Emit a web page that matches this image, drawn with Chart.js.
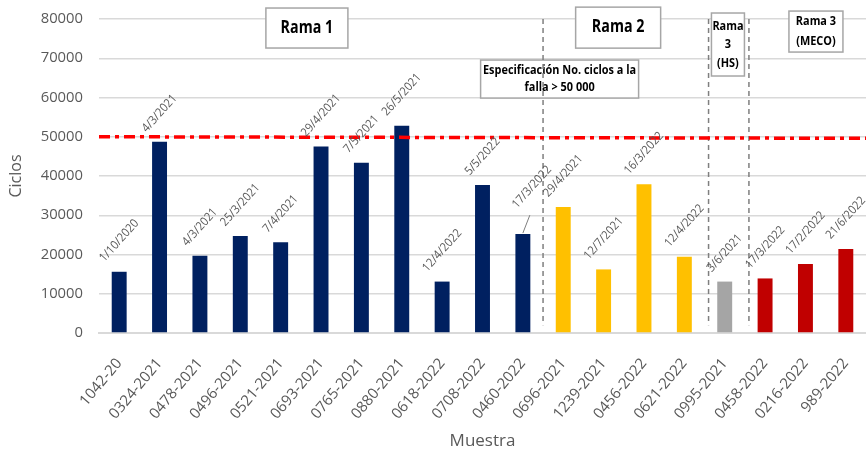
<!DOCTYPE html>
<html>
<head>
<meta charset="utf-8">
<script src="https://cdn.jsdelivr.net/npm/chart.js@4"></script>
<style>
  html, body { margin: 0; padding: 0; background: #fff; }
  #wrap { width: 866px; height: 456px; }
</style>
</head>
<body>
<div id="wrap"><canvas id="ciclosBar"></canvas></div>
<script>
// Datos
const muestras = ["1042-20", "0324-2021", "0478-2021", "0496-2021", "0521-2021", "0693-2021",
  "0765-2021", "0880-2021", "0618-2022", "0708-2022", "0460-2022", "0696-2021", "1239-2021",
  "0456-2022", "0621-2022", "0995-2021", "0458-2022", "0216-2022", "989-2022"];
const ciclos = [15600, 48700, 19700, 24700, 23100, 47500, 43400, 52800, 13100, 37700,
  25200, 32100, 16200, 37900, 19400, 13100, 13900, 17600, 21400];
const fechas = ["1/10/2020", "4/3/2021", "4/3/2021", "25/3/2021", "7/4/2021", "29/4/2021",
  "7/5/2021", "26/5/2021", "12/4/2022", "5/5/2022", "17/3/2022", "29/4/2021", "12/7/2021",
  "16/3/2022", "12/4/2022", "3/6/2021", "17/3/2022", "17/2/2022", "21/6/2022"];
const ramas = ["r1", "r1", "r1", "r1", "r1", "r1", "r1", "r1", "r1", "r1", "r1",
  "r2", "r2", "r2", "r2", "hs", "meco", "meco", "meco"];
const especificacion = [50000, 49600];   // línea de especificación (borde izq. y der.)
const divisiones = [11, 15.1, 16.1];     // separaciones entre ramas (en unidades de categoría)

const colorRama = { r1: "#002060", r2: "#FFC000", hs: "#A5A5A5", meco: "#C00000" };
const gris = "#595959";

// Cuadros de texto (centro en unidades de datos, tamaño en px)
const cajas = [
  { lines: ["Rama 1"], x: 5.15, y: 77700, w: 82, h: 40, size: 17, lh: 18 },
  { lines: ["Rama 2"], x: 12.86, y: 77800, w: 85, h: 41, size: 17, lh: 18 },
  { lines: ["Especificación No. ciclos a la", "falla > 50 000"], x: 11.41, y: 64700, w: 158, h: 38, size: 13, lh: 17 },
  { lines: ["Rama", "3", "(HS)"], x: 15.58, y: 73500, w: 33, h: 63, size: 13, lh: 18.5 },
  { lines: ["Rama 3", "(MECO)"], x: 17.76, y: 76800, w: 54, h: 41, size: 13, lh: 20 }
];

const cajasPlugin = {
  id: "cajas",
  beforeDatasetsDraw(chart) {
    const ctx = chart.ctx;
    const xs = chart.scales.x2, ys = chart.scales.y;
    ctx.save();
    cajas.forEach(c => {
      const cx = xs.getPixelForValue(c.x), cy = ys.getPixelForValue(c.y);
      ctx.fillStyle = "#fff";
      ctx.fillRect(cx - c.w / 2, cy - c.h / 2, c.w, c.h);
      ctx.strokeStyle = "#A6A6A6";
      ctx.lineWidth = 1.5;
      ctx.strokeRect(cx - c.w / 2, cy - c.h / 2, c.w, c.h);
      ctx.fillStyle = "#000";
      ctx.font = "bold " + c.size + "px 'Open Sans', sans-serif";
      ctx.textAlign = "center";
      ctx.textBaseline = "middle";
      const y0 = cy - (c.lines.length - 1) * c.lh / 2;
      c.lines.forEach((t, i) => {
        ctx.save();
        ctx.translate(cx, y0 + i * c.lh);
        ctx.scale(0.84, 1);
        ctx.fillText(t, 0, 0);
        ctx.restore();
      });
    });
    ctx.restore();
  }
};

const fechasPlugin = {
  id: "fechas",
  afterDatasetsDraw(chart) {
    const ctx = chart.ctx;
    const meta = chart.getDatasetMeta(0);
    const ang = 48 * Math.PI / 180;
    ctx.save();
    ctx.font = "12px 'Open Sans', sans-serif";
    ctx.fillStyle = gris;
    ctx.textAlign = "center";
    ctx.textBaseline = "middle";
    meta.data.forEach((bar, i) => {
      const w = ctx.measureText(fechas[i]).width;
      let cx = bar.x, cy = bar.y - (w / 2 * Math.sin(ang) + 10);
      if (i === 10) {
        // etiqueta desplazada con línea guía
        cx += 9; cy -= 16;
        ctx.strokeStyle = "#7F7F7F";
        ctx.lineWidth = 1;
        ctx.beginPath();
        ctx.moveTo(bar.x, bar.y - 1);
        ctx.lineTo(bar.x + 7, bar.y - 19);
        ctx.stroke();
      }
      ctx.save();
      ctx.translate(cx, cy);
      ctx.rotate(-ang);
      ctx.scale(0.92, 1);
      ctx.fillText(fechas[i], 0, 0);
      ctx.restore();
    });
    ctx.restore();
  }
};

const ctx = document.getElementById("ciclosBar");
new Chart(ctx, {
  type: "bar",
  data: {
    labels: muestras,
    datasets: [
      {
        type: "bar",
        data: ciclos,
        backgroundColor: ramas.map(r => colorRama[r]),
        barPercentage: 0.37,
        categoryPercentage: 1,
        grouped: false,
        order: 2
      },
      {
        type: "line",
        xAxisID: "x2",
        data: [{ x: 0, y: especificacion[0] }, { x: 19, y: especificacion[1] }],
        borderColor: "#FF0000",
        borderWidth: 3.5,
        borderDash: [11, 5, 4, 5],
        pointRadius: 0,
        order: 0
      },
      ...divisiones.map(d => ({
        type: "line",
        xAxisID: "x2",
        data: [{ x: d, y: 80000 }, { x: d, y: 2000 }],
        borderColor: "#7F7F7F",
        borderWidth: 1.5,
        borderDash: [5, 4],
        pointRadius: 0,
        order: 1
      }))
    ]
  },
  options: {
    responsive: true,
    maintainAspectRatio: false,
    animation: false,
    layout: { padding: { top: 19, right: 0, left: 0, bottom: 0 } },
    plugins: { legend: { display: false }, tooltip: { enabled: false } },
    scales: {
      x: {
        grid: { display: false },
        border: { display: true, color: "#D9D9D9", width: 2 },
        ticks: {
          color: gris,
          font: { family: "'Open Sans', sans-serif", size: 15 },
          minRotation: 50,
          maxRotation: 50,
          autoSkip: false,
          padding: 14
        },
        title: {
          display: true,
          text: "Muestra",
          color: gris,
          font: { family: "'Open Sans', sans-serif", size: 17 },
          padding: { top: 0, bottom: 5 }
        },
        afterFit(scale) {
          scale.height = 123;
          scale.paddingLeft = 0;
          scale.paddingRight = 0;
        }
      },
      x2: {
        type: "linear",
        position: "bottom",
        min: 0,
        max: 19,
        offset: false,
        display: true,
        ticks: { display: false },
        grid: { display: false, drawTicks: false, offset: false },
        border: { display: false },
        afterFit(scale) {
          scale.height = 0;
          scale.paddingLeft = 0;
          scale.paddingRight = 0;
        }
      },
      y: {
        min: 0,
        max: 80000,
        ticks: {
          stepSize: 10000,
          color: gris,
          font: { family: "'Open Sans', sans-serif", size: 14.8 },
          padding: 16,
          callback: v => String(v)
        },
        grid: { color: "#D9D9D9", lineWidth: 1.5, drawTicks: false },
        border: { display: false },
        title: {
          display: true,
          text: "Ciclos",
          color: gris,
          font: { family: "'Open Sans', sans-serif", size: 16 },
          padding: { top: 7, bottom: 0 }
        },
        afterFit(scale) {
          scale.width = 99;
          scale.paddingTop = 0;
          scale.paddingBottom = 0;
        }
      }
    }
  },
  plugins: [cajasPlugin, fechasPlugin]
});
</script>
</body>
</html>
